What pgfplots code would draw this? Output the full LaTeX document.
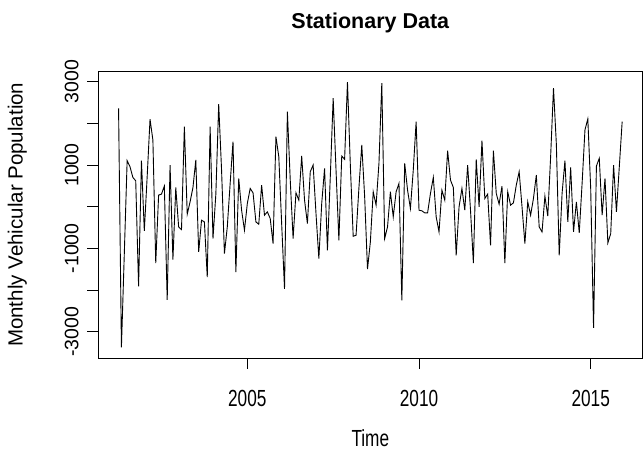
\documentclass[border=0pt]{standalone}
\usepackage{pgfplots}
\pgfplotsset{compat=1.18}
\usepackage{pgfplotstable}
\usepackage{fontspec}
\setmainfont{Liberation Sans}
\newfontfamily\narrowfont[FakeStretch=0.74]{Liberation Sans}

\pgfplotstableread{
y
2362
-3378
-1150
1105
960
703
623
-1914
1105
-581
720
2100
1600
-1352
278
302
495
-2236
1000
-1272
462
-485
-550
1924
-180
117
462
1121
-1087
-325
-365
-1690
1924
-766
300
2462
880
-1128
-485
559
1563
-1569
679
-84
-565
77
438
334
-365
-421
519
-204
-124
-284
-887
1683
1201
-405
-1971
2285
639
-766
334
157
1217
157
-405
840
1000
-164
-1248
77
920
-1047
719
2606
880
-806
1217
1137
2992
1000
-710
-686
450
1482
250
-1500
-846
358
37
1040
2968
-766
-485
358
-244
358
559
-2252
1041
398
-44
880
2044
-84
-100
-148
-148
318
703
-244
-606
398
157
1346
639
462
-1168
-3
438
-84
1000
-84
-1352
1137
-3
1587
197
302
-927
1346
318
61
494
-1352
358
37
93
519
840
-3
-887
117
-204
200
760
-485
-606
254
-228
1200
2847
1500
-1168
318
1105
-364
944
-606
117
-630
559
1844
2108
438
-2910
976
1161
-204
679
-870
-646
1000
-124
960
2044
}\datatable

\begin{document}
\begin{tikzpicture}[x=1bp,y=1bp]
\begin{axis}[
  at={(98.4bp,98bp)}, anchor=south west,
  scale only axis,
  width=543.9bp, height=286.5bp,
  xmin=2000.663, xmax=2016.503,
  ymin=-3633, ymax=3246,
  axis line style={line width=0.8bp, black},
  tick pos=left,
  tick align=outside,
  major tick length=11bp,
  every tick/.style={line width=0.8bp, black},
  xtick={2005,2010,2015},
  xticklabels={2005,2010,2015},
  ytick={-3000,-2000,-1000,0,1000,2000,3000},
  yticklabels={-3000,,-1000,,1000,,3000},
  xticklabel style={font=\narrowfont\fontsize{23.3bp}{28bp}\selectfont, anchor=base, inner sep=0pt, yshift=-37.7bp},
  yticklabel style={font=\fontsize{19.5bp}{24bp}\selectfont, xshift=-9.1bp, rotate=90, anchor=base, inner sep=0pt},
  clip=true,
]
\addplot[black, line width=0.9bp, mark=none] table[x expr=2001.25+\coordindex/12, y=y] {\datatable};
\end{axis}
\node[anchor=base, font=\bfseries\fontsize{21.5bp}{26bp}\selectfont] at (370.35bp,427bp) {Stationary Data};
\node[anchor=base, font=\narrowfont\fontsize{23.3bp}{28bp}\selectfont] at (370.35bp,10bp) {Time};
\node[anchor=base, rotate=90, font=\fontsize{20.5bp}{25bp}\selectfont] at (22.7bp,241.25bp) {Monthly Vehicular Population};
\pgfresetboundingbox
\path[use as bounding box] (0bp,0bp) rectangle (643bp,456bp);
\end{tikzpicture}
\end{document}
